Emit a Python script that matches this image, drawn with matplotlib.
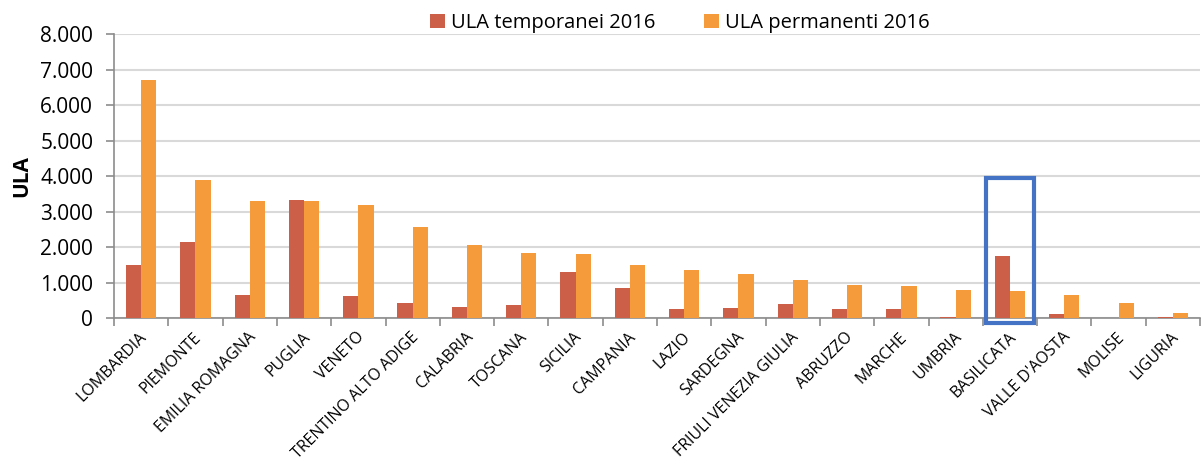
import numpy as np
import matplotlib.pyplot as plt
from matplotlib.patches import Rectangle
from matplotlib.ticker import FuncFormatter, FixedLocator

regioni = ['LOMBARDIA', 'PIEMONTE', 'EMILIA ROMAGNA', 'PUGLIA', 'VENETO',
           'TRENTINO ALTO ADIGE', 'CALABRIA', 'TOSCANA', 'SICILIA', 'CAMPANIA',
           'LAZIO', 'SARDEGNA', 'FRIULI VENEZIA GIULIA', 'ABRUZZO', 'MARCHE',
           'UMBRIA', 'BASILICATA', "VALLE D'AOSTA", 'MOLISE', 'LIGURIA']
temporanei = [1500, 2150, 650, 3330, 620, 420, 300, 380, 1300, 850,
              250, 280, 400, 260, 240, 20, 1750, 110, 5, 30]
permanenti = [6700, 3880, 3300, 3300, 3170, 2550, 2050, 1820, 1810, 1500,
              1350, 1250, 1080, 920, 910, 800, 770, 660, 410, 140]
evidenziata = 'BASILICATA'

c_temp = '#CB5F47'
c_perm = '#F59B3C'
c_grid = '#D9D9D9'
c_axis = '#8C8C8C'

plt.rcParams['font.family'] = ['Open Sans', 'DejaVu Sans']

fig = plt.figure(figsize=(12.04, 4.66), dpi=100)
ax = fig.add_axes([0.0947, 0.3176, 0.902, 0.6094])

x = np.arange(len(regioni))
w = 0.28
ax.bar(x - w / 2, temporanei, w, color=c_temp, label='ULA temporanei 2016', zorder=3)
ax.bar(x + w / 2, permanenti, w, color=c_perm, label='ULA permanenti 2016', zorder=3)

ax.set_xlim(-0.5, len(regioni) - 0.5)
ax.set_ylim(0, 8000)
ax.set_yticks(np.arange(0, 8001, 1000))
ax.yaxis.set_major_formatter(FuncFormatter(lambda v, p: f'{int(v):,}'.replace(',', '.')))
ax.yaxis.grid(True, color=c_grid, linewidth=1.5, zorder=0)
ax.set_axisbelow(True)

ax.set_xticks(x - 0.04)
ax.set_xticklabels(regioni, rotation=45, ha='right', va='top', rotation_mode='anchor',
                   fontsize=11.5)
ax.xaxis.set_minor_locator(FixedLocator(np.arange(-0.5, len(regioni), 1)))
ax.tick_params(axis='x', which='major', length=0, pad=8)
ax.tick_params(axis='x', which='minor', length=6, width=1.2, color=c_axis)
ax.tick_params(axis='y', length=6, width=1.2, color=c_axis, labelsize=15, pad=9)

for s in ['top', 'right']:
    ax.spines[s].set_visible(False)
for s in ['left', 'bottom']:
    ax.spines[s].set_color(c_axis)
    ax.spines[s].set_linewidth(1.2)

ax.set_ylabel('ULA', fontsize=15, fontweight='bold', labelpad=6)

i = regioni.index(evidenziata)
ax.add_patch(Rectangle((i - 0.45, -150), 0.9, 4100, fill=False, edgecolor='#4472C4',
                       linewidth=3, clip_on=False, zorder=5))

ax.legend(loc='lower center', bbox_to_anchor=(0.521, 0.975), ncol=2, frameon=False,
          fontsize=14.5, handlelength=0.75, handleheight=0.75, handletextpad=0.3,
          columnspacing=2.4, borderaxespad=0)

fig.savefig('out.png', dpi=100)
